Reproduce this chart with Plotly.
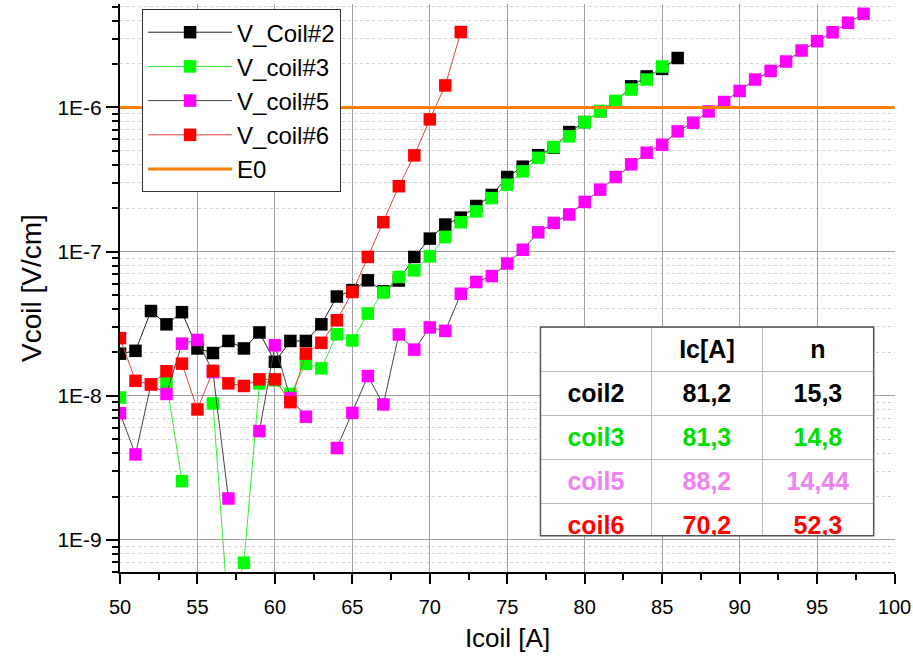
import plotly.graph_objects as go

# ---------------- data ----------------
I_coil2 = list(range(50, 87))
V_coil2 = [1.96e-8, 2.05e-8, 3.87e-8, 3.13e-8, 3.80e-8, 2.13e-8, 1.98e-8, 2.40e-8, 2.13e-8, 2.75e-8,
           1.72e-8, 2.40e-8, 2.40e-8, 3.13e-8, 4.88e-8, 5.40e-8, 6.32e-8, 5.30e-8, 6.30e-8, 9.18e-8,
           1.23e-7, 1.54e-7, 1.72e-7, 2.07e-7, 2.47e-7, 3.29e-7, 3.88e-7, 4.66e-7, 5.26e-7, 6.74e-7,
           7.91e-7, 9.42e-7, 1.09e-6, 1.40e-6, 1.64e-6, 1.85e-6, 2.20e-6]

I_coil3 = list(range(50, 86))
V_coil3 = [9.73e-9, None, None, 1.25e-8, 2.56e-9, None, 8.85e-9, 3.0e-10, 6.95e-10, 1.22e-8,
           1.28e-8, 1.03e-8, 1.67e-8, 1.55e-8, 2.67e-8, 2.42e-8, 3.72e-8, 5.20e-8, 6.67e-8, 7.41e-8,
           9.27e-8, 1.26e-7, 1.60e-7, 1.90e-7, 2.35e-7, 2.91e-7, 3.60e-7, 4.47e-7, 5.31e-7, 6.30e-7,
           7.91e-7, 9.42e-7, 1.11e-6, 1.33e-6, 1.56e-6, 1.92e-6]

I_coil5 = list(range(50, 99))
V_coil5 = [7.57e-9, 3.92e-9, 1.20e-8, 1.03e-8, 2.30e-8, 2.44e-8, 1.46e-8, 1.94e-9, None, 5.69e-9,
           2.24e-8, 9.6e-9, 7.16e-9, None, 4.34e-9, 7.61e-9, 1.37e-8, 8.71e-9, 2.66e-8, 2.09e-8,
           2.98e-8, 2.82e-8, 5.10e-8, 6.15e-8, 6.76e-8, 8.26e-8, 1.03e-7, 1.36e-7, 1.58e-7, 1.81e-7,
           2.21e-7, 2.69e-7, 3.29e-7, 4.03e-7, 4.85e-7, 5.51e-7, 6.82e-7, 7.83e-7, 9.38e-7, 1.09e-6,
           1.30e-6, 1.56e-6, 1.79e-6, 2.08e-6, 2.48e-6, 2.88e-6, 3.32e-6, 3.86e-6, 4.46e-6]

I_coil6 = list(range(50, 73))
V_coil6 = [2.51e-8, 1.27e-8, 1.20e-8, 1.48e-8, 1.67e-8, 8.04e-9, 1.49e-8, 1.22e-8, 1.17e-8, 1.30e-8,
           1.30e-8, 9.03e-9, 1.96e-8, 2.33e-8, 3.34e-8, 5.25e-8, 9.18e-8, 1.60e-7, 2.84e-7, 4.65e-7,
           8.26e-7, 1.42e-6, 3.33e-6]

E0_x = [50, 100]
E0_y = [1e-6, 1e-6]

table_names = ["coil2", "coil3", "coil5", "coil6"]
table_ic = ["81,2", "81,3", "88,2", "70,2"]
table_n = ["15,3", "14,8", "14,44", "52,3"]
table_colors = ["#000000", "#00E000", "#EE82EE", "#FF0000"]

x_tickvals = [50, 55, 60, 65, 70, 75, 80, 85, 90, 95, 100]
y_tickvals = [1e-9, 1e-8, 1e-7, 1e-6]
y_ticktext = ["1E-9", "1E-8", "1E-7", "1E-6"]

FONT = "Liberation Sans, Arial, sans-serif"

fig = go.Figure()

series = [
    ("V_Coil#2", I_coil2, V_coil2, "#000000", "#222222"),
    ("V_coil#3", I_coil3, V_coil3, "#00FF00", "#33EE33"),
    ("V_coil#5", I_coil5, V_coil5, "#FF00FF", "#444444"),
    ("V_coil#6", I_coil6, V_coil6, "#FF0000", "#E04040"),
]
for name, xs, ys, mcol, lcol in series:
    fig.add_trace(go.Scatter(
        x=xs, y=ys, name=name, mode="lines+markers",
        line=dict(color=lcol, width=1),
        marker=dict(symbol="square", size=12.5, color=mcol, line=dict(width=0)),
        connectgaps=False, cliponaxis=True,
    ))

fig.add_trace(go.Scatter(
    x=E0_x, y=E0_y, name="E0", mode="lines",
    line=dict(color="#FF8000", width=3),
))

# table
cell_colors = [table_colors, table_colors, table_colors]
fig.add_trace(go.Table(
    domain=dict(x=[0.5425, 0.9725], y=[0.064, 0.4313]),
    columnwidth=[1, 1, 1],
    header=dict(values=["", "<b>Ic[A]</b>", "<b>n</b>"], height=41.5, align="center",
                fill_color="white", line=dict(color="#BBBBBB", width=1),
                font=dict(family=FONT, size=25, color="black")),
    cells=dict(values=[["<b>%s</b>" % s for s in table_names],
                       ["<b>%s</b>" % s for s in table_ic],
                       ["<b>%s</b>" % s for s in table_n]],
               height=41.5, align="center", fill_color="white",
               line=dict(color="#BBBBBB", width=1),
               font=dict(family=FONT, size=25, color=cell_colors)),
))

minor_vals = [k * 10.0 ** d for d in range(-10, -4) for k in range(2, 10)]

fig.update_layout(
    width=913, height=663,
    margin=dict(l=120, r=18, t=4, b=91, autoexpand=False),
    paper_bgcolor="white", plot_bgcolor="white",
    font=dict(family=FONT, color="black"),
    showlegend=True,
    legend=dict(x=0.0285, y=0.991, xanchor="left", yanchor="top",
                bgcolor="white", bordercolor="#333333", borderwidth=1,
                font=dict(family=FONT, size=24, color="black"),
                itemwidth=84, tracegroupgap=0),
    shapes=[dict(type="rect", xref="paper", yref="paper",
                 x0=0.5425, x1=0.9725, y0=0.064, y1=0.4313,
                 line=dict(color="#555555", width=1.5), fillcolor="rgba(0,0,0,0)")],
)

fig.update_xaxes(
    range=[50, 100.03], tickmode="array", tickvals=x_tickvals,
    automargin=False,
    showline=True, linecolor="black", linewidth=2,
    ticks="outside", ticklen=10, tickwidth=2, tickcolor="black",
    ticklabelstandoff=6, ticklabeloverflow="allow",
    tickfont=dict(family=FONT, size=20, color="black"),
    showgrid=True, gridcolor="#A0A0A0", gridwidth=1, zeroline=False,
    minor=dict(dtick=2.5, tick0=50, ticks="outside", ticklen=6, tickwidth=2,
               tickcolor="black", showgrid=False),
    title=dict(text="Icoil [A]", font=dict(family=FONT, size=26, color="black"), standoff=12),
)

fig.update_yaxes(
    type="log", range=[-9.222, -5.283],
    tickmode="array", tickvals=y_tickvals, ticktext=y_ticktext,
    showline=True, linecolor="black", linewidth=2,
    ticks="outside", ticklen=12, tickwidth=2, tickcolor="black",
    tickfont=dict(family=FONT, size=21, color="black"),
    showgrid=True, gridcolor="#A0A0A0", gridwidth=1, zeroline=False,
    minor=dict(tickmode="array", tickvals=minor_vals, ticks="outside", ticklen=6,
               tickwidth=1.5, tickcolor="black", showgrid=True,
               gridcolor="#D0D0D0", griddash="dot", gridwidth=1),
    title=dict(text="Vcoil [V/cm]", font=dict(family=FONT, size=28, color="black"), standoff=8),
)

fig.write_html("out.html")
